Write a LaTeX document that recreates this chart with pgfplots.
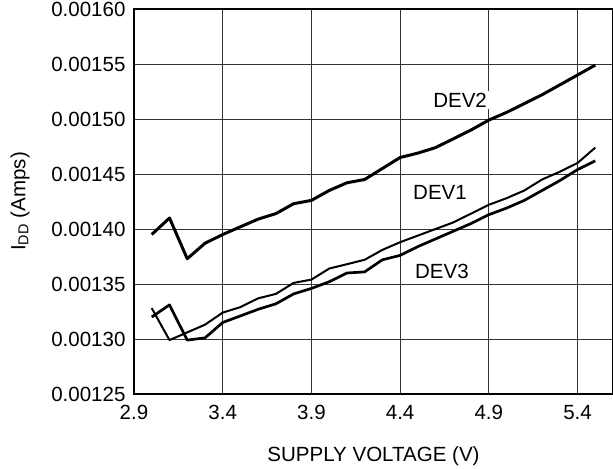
\documentclass[border=0pt]{standalone}
\usepackage{pgfplots}
\pgfplotsset{compat=1.18}
\usepackage{fontspec}
\setmainfont{Liberation Sans}
\begin{document}
\begin{tikzpicture}
\begin{axis}[
  at={(134bp,75bp)}, anchor=south west,
  scale only axis, width=479bp, height=385bp,
  xmin=2.9, xmax=5.6, ymin=0.00125, ymax=0.00160,
  xtick={2.9,3.4,3.9,4.4,4.9,5.4},
  ytick={0.00125,0.00130,0.00135,0.00140,0.00145,0.00150,0.00155,0.00160},
  scaled y ticks=false, scaled x ticks=false,
  yticklabel style={/pgf/number format/fixed, /pgf/number format/fixed zerofill, /pgf/number format/precision=5},
  xticklabel style={/pgf/number format/fixed, /pgf/number format/fixed zerofill, /pgf/number format/precision=1},
  /pgf/number format/assume math mode=true,
  font=\fontsize{20.6}{24}\selectfont,
  major tick length=0pt,
  grid=major,
  major grid style={black!80, line width=1bp},
  axis line style={black, line width=1.6bp},
  every x tick label/.append style={yshift=-8bp},
  every y tick label/.append style={xshift=-5bp},
  xlabel={SUPPLY VOLTAGE (V)},
  ylabel={I\textsubscript{DD} (Amps)},
  every axis x label/.style={at={(axis description cs:0.5,-0.1766)}, anchor=base},
  every axis y label/.style={at={(axis description cs:-0.238,0.5)}, anchor=center, rotate=90},
  clip=true,
]
% DEV2
\addplot[black, line width=3bp, line join=round] coordinates {
(3.0,0.001395) (3.1,0.001410) (3.2,0.001373) (3.3,0.001387) (3.4,0.001395)
(3.5,0.001402) (3.6,0.001409) (3.7,0.001414) (3.8,0.001423) (3.9,0.001426)
(4.0,0.001435) (4.1,0.001442) (4.2,0.001445) (4.3,0.001455) (4.4,0.001465)
(4.5,0.001469) (4.6,0.001474) (4.7,0.001482) (4.8,0.001490) (4.9,0.001499)
(5.0,0.001506) (5.1,0.001514) (5.2,0.001522) (5.3,0.001531) (5.4,0.001540)
(5.5,0.001549)};
% DEV1
\addplot[black, line width=2bp, line join=round] coordinates {
(3.0,0.001328) (3.1,0.001299) (3.2,0.001306) (3.3,0.001313) (3.4,0.001324)
(3.5,0.001329) (3.6,0.001337) (3.7,0.001341) (3.8,0.001351) (3.9,0.001354)
(4.0,0.001364) (4.1,0.001368) (4.2,0.001372) (4.3,0.001381) (4.4,0.001388)
(4.5,0.001394) (4.6,0.001400) (4.7,0.001406) (4.8,0.001414) (4.9,0.001422)
(5.0,0.001428) (5.1,0.001435) (5.2,0.001445) (5.3,0.001452) (5.4,0.001460)
(5.5,0.001474)};
% DEV3
\addplot[black, line width=2.7bp, line join=round] coordinates {
(3.0,0.001320) (3.1,0.001331) (3.2,0.001299) (3.3,0.001301) (3.4,0.001315)
(3.5,0.001321) (3.6,0.001327) (3.7,0.001332) (3.8,0.001341) (3.9,0.001346)
(4.0,0.001352) (4.1,0.001360) (4.2,0.001361) (4.3,0.001372) (4.4,0.001376)
(4.5,0.001384) (4.6,0.001391) (4.7,0.001398) (4.8,0.001405) (4.9,0.001413)
(5.0,0.001419) (5.1,0.001426) (5.2,0.001435) (5.3,0.001444) (5.4,0.001454)
(5.5,0.001462)};
\node[fill=white, inner sep=2bp] at (axis cs:4.738,0.0015173) {DEV2};
\node[fill=white, inner sep=2bp] at (axis cs:4.625,0.0014336) {DEV1};
\node[fill=white, inner sep=2bp] at (axis cs:4.636,0.0013618) {DEV3};
\end{axis}
\pgfresetboundingbox
\useasboundingbox (0,0) rectangle (613bp,469bp);
\end{tikzpicture}
\end{document}
